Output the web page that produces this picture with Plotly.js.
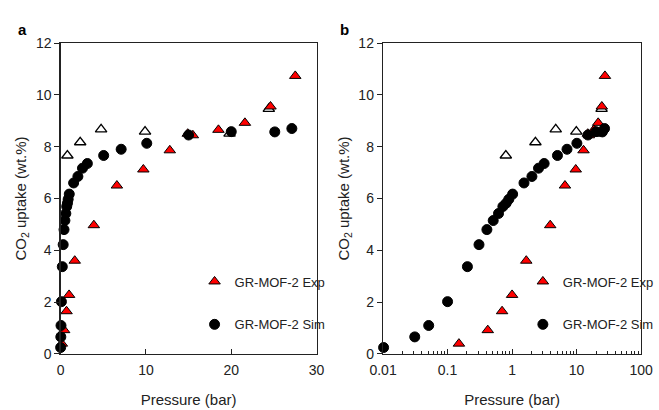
<!DOCTYPE html>
<html>
<head>
<meta charset="utf-8">
<script src="https://cdn.plot.ly/plotly-3.0.1.min.js"></script>
<style>html,body{margin:0;padding:0;background:#fff;}#chart{width:659px;height:410px;}</style>
</head>
<body>
<div id="chart"></div>
<script>
// Experimental adsorption (red filled triangles)
const expP = [0.15, 0.42, 0.70, 1.0, 1.66, 3.9, 6.6, 9.7, 12.8, 14.9, 15.5, 18.5, 21.6, 24.6, 27.5];
const expQ = [0.40, 0.92, 1.65, 2.28, 3.60, 4.97, 6.50, 7.12, 7.86, 8.50, 8.44, 8.65, 8.92, 9.55, 10.73];
// Experimental desorption (open triangles)
const desP = [0.8, 2.3, 4.75, 9.9, 19.8, 24.4];
const desQ = [7.66, 8.17, 8.67, 8.58, 8.50, 9.46];
// Simulation (black circles)
const simP = [0.0102, 0.031, 0.051, 0.1, 0.203, 0.307, 0.407, 0.51, 0.616, 0.72, 0.81, 0.89, 1.02, 1.53, 2.03, 2.57, 3.14, 5.05, 7.1, 10.1, 15.0, 20.0, 25.1, 27.1];
const simQ = [0.25, 0.66, 1.10, 2.02, 3.37, 4.22, 4.80, 5.15, 5.42, 5.69, 5.82, 5.97, 6.17, 6.60, 6.85, 7.17, 7.35, 7.66, 7.90, 8.13, 8.45, 8.58, 8.57, 8.70];

const expName = 'GR-MOF-2 Exp';
const simName = 'GR-MOF-2 Sim';
const logTicks = [0.01, 0.1, 1, 10, 100];
const logTickText = ['0.01', '0.1', '1', '10', '100'];
const yTicks = [0, 2, 4, 6, 8, 10, 12];

const triExp = {symbol: 'triangle-up', size: 10, color: '#ff0000', line: {color: '#000', width: 1}};
const triDes = {symbol: 'triangle-up', size: 10, color: '#ffffff', line: {color: '#000', width: 1.3}};
const circ = {symbol: 'circle', size: 10, color: '#000', line: {color: '#000', width: 1}};

function traces(xa, ya, leg) {
  return [
    {x: desP, y: desQ, xaxis: xa, yaxis: ya, type: 'scatter', mode: 'markers', marker: triDes, showlegend: false, cliponaxis: false},
    {x: expP, y: expQ, xaxis: xa, yaxis: ya, type: 'scatter', mode: 'markers', marker: triExp, name: expName, legend: leg, legendgroup: leg + 'e', cliponaxis: false},
    {x: simP, y: simQ, xaxis: xa, yaxis: ya, type: 'scatter', mode: 'markers', marker: circ, name: simName, legend: leg, legendgroup: leg + 's', cliponaxis: false}
  ];
}

const data = traces('x', 'y', 'legend').concat(traces('x2', 'y2', 'legend2'));

const font = {family: 'Liberation Sans, Arial, sans-serif', size: 13, color: '#222'};
const yTitle = {text: 'CO<sub>2</sub> uptake (wt.%)', font: {size: 15, color: '#222'}, standoff: 5};
const xTitle = {text: 'Pressure (bar)', font: {size: 15, color: '#222'}, standoff: 17};

const axCommon = {showgrid: false, zeroline: false, showline: true, linecolor: '#222', linewidth: 1.3, mirror: true, automargin: false, tickfont: {size: 14, color: '#222'}};

const yax = Object.assign({}, axCommon, {range: [0, 12], tickvals: yTicks, ticks: 'outside', ticklen: 5, tickcolor: '#222', title: yTitle, domain: [0.1366, 0.8951]});

const layout = {
  width: 659, height: 410,
  margin: {l: 0, r: 0, t: 0, b: 0},
  paper_bgcolor: '#fff', plot_bgcolor: '#fff',
  font: font,
  showlegend: true,
  xaxis: Object.assign({}, axCommon, {domain: [0.0926, 0.4841], range: [0, 30], tickvals: [0, 10, 20, 30], ticks: 'inside', ticklen: 5, tickcolor: '#222', ticklabelstandoff: 3, title: xTitle, anchor: 'y'}),
  yaxis: Object.assign({}, yax, {anchor: 'x'}),
  xaxis2: Object.assign({}, axCommon, {domain: [0.5857, 0.9803], type: 'log', range: [-2, 2], tickvals: logTicks, ticktext: logTickText, ticks: 'inside', ticklen: 5, tickcolor: '#222', ticklabelstandoff: 3, minor: {ticks: 'inside', ticklen: 3, tickcolor: '#222', dtick: 'D1'}, title: xTitle, anchor: 'y2'}),
  yaxis2: Object.assign({}, yax, {anchor: 'x2'}),
  legend: {x: 0.2975, y: 0.35, xanchor: 'left', yanchor: 'top', bgcolor: 'rgba(0,0,0,0)', font: {size: 13, color: '#222'}, tracegroupgap: 23, itemwidth: 30},
  legend2: {x: 0.7995, y: 0.35, xanchor: 'left', yanchor: 'top', bgcolor: 'rgba(0,0,0,0)', font: {size: 13, color: '#222'}, tracegroupgap: 23, itemwidth: 30},
  annotations: [
    {text: '<b>a</b>', xref: 'paper', yref: 'paper', x: 16 / 659, y: 1 - 19 / 410, showarrow: false, font: {size: 15, color: '#000'}},
    {text: '<b>b</b>', xref: 'paper', yref: 'paper', x: 347 / 659, y: 1 - 19 / 410, showarrow: false, font: {size: 15, color: '#000'}}
  ]
};

Plotly.newPlot('chart', data, layout, {displayModeBar: false, staticPlot: true});
</script>
</body>
</html>
